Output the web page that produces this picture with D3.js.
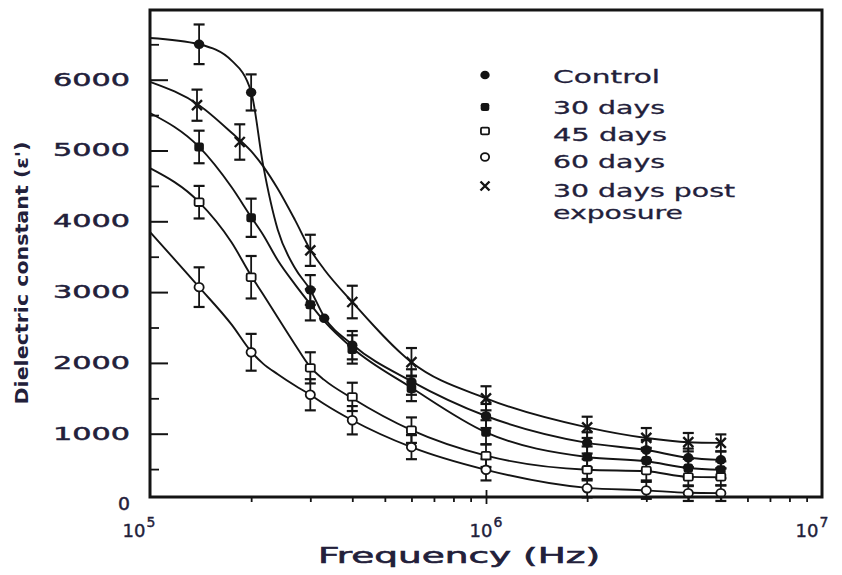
<!DOCTYPE html>
<html><head><meta charset="utf-8">
<script src="https://cdn.jsdelivr.net/npm/d3@7"></script>
<style>
html,body{margin:0;padding:0;background:#fff;}
svg{display:block;}
</style></head><body>
<svg id="chart" width="842" height="575"></svg>
<script>
// ---------- data ----------
const yTicks = [0, 1000, 2000, 3000, 4000, 5000, 6000];
const yMinorTicks = [500, 1500, 2500, 3500, 4500, 5500, 6500];
const xMinorTicks = [2e5, 3e5, 4e5, 5e5, 6e5, 7e5, 8e5, 9e5, 1e6, 2e6, 3e6, 4e6, 5e6, 6e6, 7e6, 8e6, 9e6];
const xLabelTicks = [1e5, 1e6, 1e7];

const seriesNames = ["Control", "30 days", "45 days", "60 days", "30 days post exposure"];

// measured points (with error bars)
const controlFreqs = [1.4e5, 2e5, 3e5, 3.3e5, 4e5, 6e5, 1e6, 2e6, 3e6, 4e6, 5e6];
const controlValues = [6500, 5820, 3030, 2630, 2250, 1730, 1250, 870, 770, 660, 630];
const controlErrors = [280, 255, 210, 0, 200, 180, 170, 150, 140, 130, 120];

const freqs = [1.4e5, 2e5, 3e5, 4e5, 6e5, 1e6, 2e6, 3e6, 4e6, 5e6];
const days30Values = [5050, 4050, 2820, 2190, 1640, 1020, 670, 620, 515, 490];
const days30Errors = [230, 270, 220, 200, 180, 170, 150, 140, 130, 120];
const days45Values = [4270, 3210, 1930, 1520, 1050, 690, 490, 480, 390, 390];
const days45Errors = [230, 300, 220, 200, 180, 160, 150, 140, 130, 120];
const days60Values = [3070, 2150, 1550, 1190, 810, 490, 230, 200, 160, 160];
const days60Errors = [280, 260, 220, 200, 170, 150, 130, 120, 110, 110];

const postFreqs = [1.38e5, 1.85e5, 3e5, 4e5, 6e5, 1e6, 2e6, 3e6, 4e6, 5e6];
const postValues = [5640, 5120, 3590, 2860, 2010, 1500, 1090, 940, 880, 870];
const postErrors = [220, 250, 220, 230, 200, 170, 150, 140, 130, 120];

// fitted curves
const curveFreqs = [1e5, 1.4e5, 1.75e5, 2e5, 2.17e5, 2.4e5, 2.7e5, 3e5, 3.3e5, 4e5, 6e5, 1e6, 2e6, 3e6, 4e6, 5e6];
const controlCurve = [6590, 6500, 6270, 5830, 4800, 3880, 3340, 3030, 2650, 2260, 1740, 1250, 870, 770, 660, 630];
const days30Curve = [5530, 5050, 4480, 4060, 3810, 3450, 3110, 2830, 2590, 2210, 1650, 1020, 670, 610, 515, 490];
const days45Curve = [4750, 4270, 3700, 3230, 2970, 2640, 2260, 1940, 1760, 1500, 1050, 690, 490, 470, 390, 385];
const days60Curve = [3850, 3070, 2540, 2160, 1990, 1840, 1680, 1550, 1420, 1190, 810, 490, 235, 200, 165, 160];
const postCurve = [5970, 5640, 5250, 4990, 4780, 4460, 4020, 3600, 3320, 2860, 2010, 1500, 1090, 940, 880, 870];

// ---------- drawing ----------
(function () {
const ink = "#141414";
const textInk = "#22203a";
const svg = d3.select("#chart");

const pLeft = 150, pRight = 822, pTop = 10, pBottom = 497;
const x = d3.scaleLog().domain([1e5, 1e7]).range([pLeft, pRight]);
const y = d3.scaleLinear().domain([0, 7000]).range([504.5, 504.5 - 7000 * 0.0708]);

const series = [
  {name: seriesNames[0], f: controlFreqs, v: controlValues, e: controlErrors, c: controlCurve, sym: "dot"},
  {name: seriesNames[1], f: freqs, v: days30Values, e: days30Errors, c: days30Curve, sym: "fsq"},
  {name: seriesNames[2], f: freqs, v: days45Values, e: days45Errors, c: days45Curve, sym: "osq"},
  {name: seriesNames[3], f: freqs, v: days60Values, e: days60Errors, c: days60Curve, sym: "ocirc"},
  {name: seriesNames[4], f: postFreqs, v: postValues, e: postErrors, c: postCurve, sym: "cross"}
];

// curves
const line = d3.line().x(d => x(d[0])).y(d => y(d[1])).curve(d3.curveMonotoneX);
const gCurves = svg.append("g");
series.forEach(s => {
  gCurves.append("path")
    .attr("d", line(curveFreqs.map((f, i) => [f, s.c[i]])))
    .attr("fill", "none").attr("stroke", ink).attr("stroke-width", 1.9);
});

// error bars
const gErr = svg.append("g").attr("stroke", ink).attr("stroke-width", 1.8);
series.forEach(s => {
  s.f.forEach((f, i) => {
    const e = s.e[i];
    if (!e) return;
    const cx = x(f), y1 = y(s.v[i] + e), y2 = y(s.v[i] - e);
    gErr.append("line").attr("x1", cx).attr("x2", cx).attr("y1", y1).attr("y2", y2);
    gErr.append("line").attr("x1", cx - 5.5).attr("x2", cx + 5.5).attr("y1", y1).attr("y2", y1).attr("stroke-width", 2.2);
    gErr.append("line").attr("x1", cx - 5.5).attr("x2", cx + 5.5).attr("y1", y2).attr("y2", y2).attr("stroke-width", 2.2);
  });
});

function drawSymbol(g, sym, scale) {
  const k = scale || 1;
  if (sym === "dot") {
    g.append("ellipse").attr("rx", 5.2 * k).attr("ry", 4.8 * k).attr("fill", ink);
  } else if (sym === "fsq") {
    g.append("rect").attr("x", -4.8 * k).attr("y", -4.5 * k).attr("width", 9.6 * k).attr("height", 9 * k)
      .attr("rx", 2.5 * k).attr("fill", ink);
  } else if (sym === "osq") {
    g.append("rect").attr("x", -4.5 * k).attr("y", -3.8 * k).attr("width", 9 * k).attr("height", 7.6 * k)
      .attr("rx", 1.5 * k)
      .attr("fill", "#fff").attr("stroke", ink).attr("stroke-width", 1.8);
  } else if (sym === "ocirc") {
    g.append("ellipse").attr("rx", 4.6 * k).attr("ry", 4.3 * k)
      .attr("fill", "#fff").attr("stroke", ink).attr("stroke-width", 1.8);
  } else if (sym === "cross") {
    const r = 5 * k;
    g.append("path").attr("d", `M${-r},${-r}L${r},${r}M${-r},${r}L${r},${-r}`)
      .attr("stroke", ink).attr("stroke-width", 2.4).attr("fill", "none");
  }
}

// markers
const gMarks = svg.append("g");
series.forEach(s => {
  s.f.forEach((f, i) => {
    const g = gMarks.append("g").attr("transform", `translate(${x(f)},${y(s.v[i])})`);
    drawSymbol(g, s.sym, 1);
  });
});

// frame
svg.append("rect").attr("x", pLeft).attr("y", pTop).attr("width", pRight - pLeft).attr("height", pBottom - pTop)
  .attr("fill", "none").attr("stroke", ink).attr("stroke-width", 3);

// y axis (ticks inward)
const labelFont = "'DejaVu Sans', Verdana, sans-serif";
const gy = svg.append("g").attr("transform", `translate(${pLeft},0)`)
  .call(d3.axisLeft(y).tickValues(yTicks).tickSize(-18).tickPadding(20).tickFormat(d3.format("d")));
gy.select(".domain").remove();
gy.selectAll(".tick line").attr("stroke", ink).attr("stroke-width", 2);
gy.selectAll(".tick").filter(d => d === 0).select("line").remove();
gy.selectAll(".tick text")
  .attr("fill", textInk).attr("stroke", textInk).attr("stroke-width", 0.45)
  .attr("font-family", labelFont).attr("font-size", 17)
  .attr("textLength", d => d === 0 ? 12 : 77).attr("lengthAdjust", "spacingAndGlyphs");

const gyMinor = svg.append("g").attr("transform", `translate(${pLeft},0)`)
  .call(d3.axisLeft(y).tickValues(yMinorTicks).tickSize(-9).tickFormat(""));
gyMinor.select(".domain").remove();
gyMinor.selectAll(".tick line").attr("stroke", ink).attr("stroke-width", 1.8);

// x axis
const gx = svg.append("g").attr("transform", `translate(0,${pBottom})`)
  .call(d3.axisBottom(x).tickValues(xMinorTicks).tickSize(5).tickFormat(""));
gx.select(".domain").remove();
gx.selectAll(".tick line").attr("stroke", ink).attr("stroke-width", 1.8);
gx.selectAll(".tick").filter(d => d === 1e6).select("line").attr("y1", -7).attr("y2", 7);

const xLabelShift = [-11, 0, -10];
xLabelTicks.forEach((v, i) => {
  const t = svg.append("text")
    .attr("x", x(v) + xLabelShift[i]).attr("y", 537)
    .attr("text-anchor", "middle").attr("fill", textInk).attr("stroke", textInk).attr("stroke-width", 0.4)
    .attr("font-family", labelFont).attr("font-size", 18);
  t.append("tspan").text("10");
  t.append("tspan").attr("dy", -10).attr("font-size", 14).attr("dx", 1).text(String(Math.round(Math.log10(v))));
});

// axis titles
svg.append("text").attr("x", 459).attr("y", 563).attr("text-anchor", "middle")
  .attr("fill", textInk).attr("stroke", textInk).attr("stroke-width", 0.6)
  .attr("font-family", labelFont).attr("font-size", 21)
  .attr("textLength", 282).attr("lengthAdjust", "spacingAndGlyphs")
  .text("Frequency (Hz)");

svg.append("text").attr("transform", "translate(28,273) rotate(-90)").attr("text-anchor", "middle")
  .attr("fill", textInk).attr("font-family", "'DejaVu Sans Condensed','DejaVu Sans',sans-serif")
  .attr("font-stretch", "condensed").attr("font-size", 17).attr("font-weight", "bold")
  .attr("textLength", 263).attr("lengthAdjust", "spacingAndGlyphs")
  .text("Dielectric constant (\u03B5')");

// legend
const legendSymY = [75, 107, 131, 157, 186];
const legendLines = [
  {t: "Control", y: 83, w: 107},
  {t: "30 days", y: 114, w: 112},
  {t: "45 days", y: 141, w: 114},
  {t: "60 days", y: 168, w: 112},
  {t: "30 days post", y: 197, w: 182},
  {t: "exposure", y: 219, w: 130}
];
const gLeg = svg.append("g");
series.forEach((s, i) => {
  const g = gLeg.append("g").attr("transform", `translate(485,${legendSymY[i]})`);
  drawSymbol(g, s.sym, 0.9);
});
legendLines.forEach(l => {
  gLeg.append("text").attr("x", 553).attr("y", l.y).attr("fill", textInk)
    .attr("stroke", textInk).attr("stroke-width", 0.3)
    .attr("font-family", labelFont).attr("font-size", 18)
    .attr("textLength", l.w).attr("lengthAdjust", "spacingAndGlyphs")
    .text(l.t);
});
})();
</script>
</body></html>
